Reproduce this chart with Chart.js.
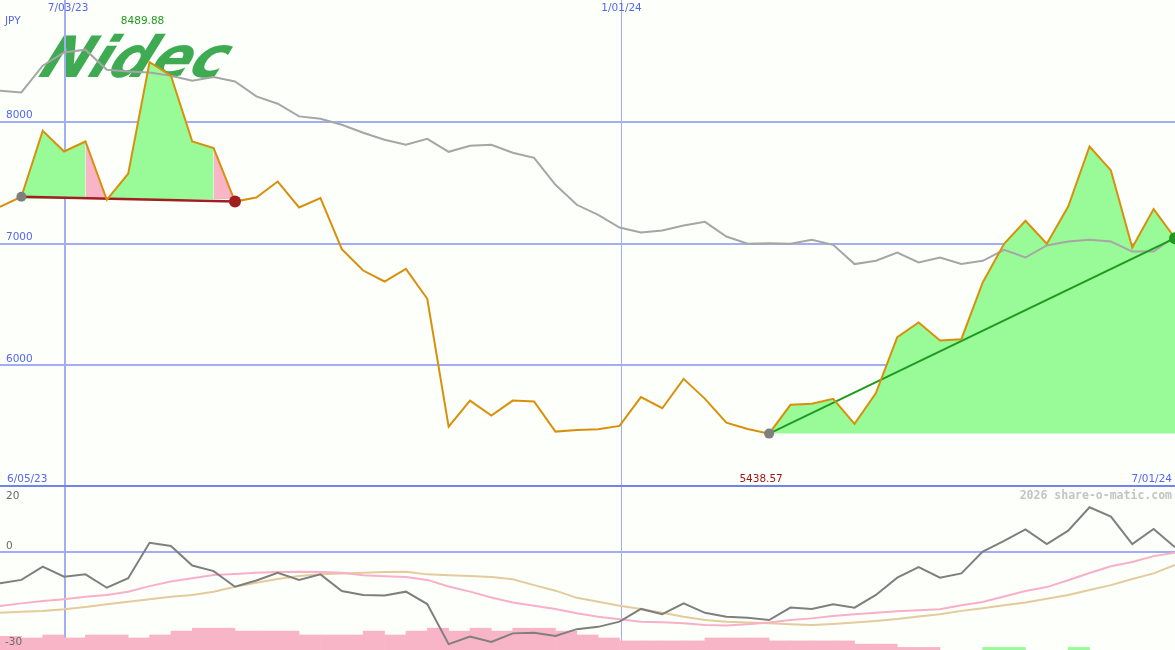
<!DOCTYPE html>
<html>
<head>
<meta charset="utf-8">
<script src="https://cdn.jsdelivr.net/npm/chart.js@4"></script>
<style>
  html, body { margin: 0; padding: 0; background: #fdfffa; }
  #wrap { position: relative; width: 1175px; height: 650px; overflow: hidden; }
  canvas { position: absolute; left: 0; }
  #priceChart { top: 0; }
  #oscChart { top: 487px; }
</style>
</head>
<body>
<div id="wrap">
  <canvas id="priceChart" width="1175" height="487"></canvas>
  <canvas id="oscChart" width="1175" height="163"></canvas>
</div>
<script>
// weekly closes, Nidec (JPY)
const weeks = ['6/12/23','6/19/23','6/26/23','7/03/23','7/10/23','7/17/23','7/24/23','7/31/23',
  '8/07/23','8/14/23','8/21/23','8/28/23','9/04/23','9/11/23','9/18/23','9/25/23','10/02/23',
  '10/09/23','10/16/23','10/23/23','10/30/23','11/06/23','11/13/23','11/20/23','11/27/23',
  '12/04/23','12/11/23','12/18/23','12/25/23','1/01/24','1/08/24','1/15/24','1/22/24','1/29/24',
  '2/05/24','2/12/24','2/19/24','2/26/24','3/04/24','3/11/24','3/18/24','3/25/24','4/01/24',
  '4/08/24','4/15/24','4/22/24','4/29/24','5/06/24','5/13/24','5/20/24','5/27/24','6/03/24',
  '6/10/24','6/17/24','6/24/24','7/01/24'];

const price = [7302, 7384, 7926, 7756, 7838, 7359, 7573, 8489.88, 8378, 7838, 7784, 7345, 7378, 7509,
  7296, 7373, 6954, 6778, 6688, 6792, 6546, 5496, 5710, 5587, 5710, 5702, 5455, 5469, 5475, 5502,
  5738, 5647, 5888, 5724, 5529, 5477, 5438.57, 5675, 5683, 5724, 5518, 5771, 6231, 6351, 6203, 6214,
  6680, 6998, 7187, 6998, 7304, 7797, 7600, 6967, 7283, 7044];

const avgLine = [8255, 8241, 8460, 8569, 8592, 8427, 8413, 8405, 8378, 8337, 8367, 8331, 8208, 8148,
  8044, 8025, 7975, 7910, 7852, 7811, 7860, 7753, 7803, 7811, 7745, 7704, 7482, 7318, 7236, 7131,
  7090, 7107, 7148, 7178, 7057, 6998, 7003, 6998, 7030, 6989, 6831, 6858, 6926, 6844, 6885, 6831,
  6858, 6948, 6885, 6984, 7016, 7030, 7016, 6934, 6934, 7057];

// oscillator panel
const momentum = [-9.5, -8.5, -4.4, -7.5, -6.8, -10.9, -8.0, 2.9, 1.9, -4.1, -5.8, -10.6, -8.7, -6.3,
  -8.5, -6.8, -11.9, -13.1, -13.3, -12.1, -15.9, -28.2, -25.9, -27.5, -24.9, -24.7, -25.7, -23.6,
  -22.9, -21.3, -17.4, -19.0, -15.7, -18.6, -19.8, -20.1, -20.8, -17.0, -17.4, -16.0, -17.0, -13.1,
  -7.8, -4.6, -7.8, -6.5, 0.2, 3.5, 7.0, 2.5, 6.6, 13.8, 10.9, 2.5, 7.1, 1.5];

const fastAvg = [-16.5, -15.7, -15.0, -14.4, -13.7, -13.1, -12.1, -10.4, -9.0, -8.0, -7.0, -6.7, -6.3,
  -6.1, -6.0, -6.1, -6.3, -7.1, -7.4, -7.6, -8.5, -10.5, -12.1, -13.9, -15.4, -16.4, -17.4, -18.7,
  -19.8, -20.6, -21.3, -21.5, -21.8, -22.3, -22.5, -22.1, -21.6, -20.8, -20.3, -19.6, -19.0, -18.6,
  -18.1, -17.8, -17.5, -16.3, -15.3, -13.6, -11.9, -10.7, -8.6, -6.4, -4.3, -3.0, -1.2, -0.2];

const slowAvg = [-18.6, -18.3, -18.0, -17.5, -16.8, -16.0, -15.2, -14.4, -13.7, -13.1, -12.1, -10.6,
  -9.4, -8.2, -7.3, -6.8, -6.5, -6.3, -6.1, -6.0, -6.8, -7.1, -7.3, -7.6, -8.3, -10.1, -11.8, -14.0,
  -15.2, -16.4, -17.4, -18.6, -19.8, -20.8, -21.3, -21.6, -21.8, -22.1, -22.3, -22.0, -21.6, -21.1,
  -20.5, -19.7, -19.0, -18.0, -17.2, -16.3, -15.4, -14.3, -13.1, -11.6, -10.1, -8.2, -6.5, -3.9];

// bars sit between weeks (one per interval)
const pinkBars = [-25.8, -26.3, -25.4, -26.3, -25.4, -25.4, -26.3, -25.4, -24.2, -23.3, -23.3, -24.2,
  -24.2, -24.2, -25.4, -25.4, -25.4, -24.2, -25.4, -24.2, -23.3, -24.2, -23.3, -24.2, -23.3, -23.3,
  -24.2, -25.4, -26.3, -27.2, -27.2, -27.2, -27.2, -26.3, -26.3, -26.3, -27.2, -27.2, -27.2, -27.2,
  -28.2, -28.2, -29.2, -29.2, null, null, null, null, null, null, null, null, null, null, null];
const greenBars = [null, null, null, null, null, null, null, null, null, null, null, null, null, null,
  null, null, null, null, null, null, null, null, null, null, null, null, null, null, null, null,
  null, null, null, null, null, null, null, null, null, null, null, null, null, null, null, null,
  -29.2, -29.2, null, null, -29.2, null, null, null, null];

const priceTicks = [6000, 7000, 8000];
const oscTicks = [20, 0, -30];
const markWeeks = ['7/03/23', '1/01/24'];

// pattern markers
const leftStart = 1, leftEnd = 11, leftBase = 7365;
const lowIdx = price.indexOf(Math.min(...price));
const highIdx = price.indexOf(Math.max(...price));
const lastIdx = price.length - 1;
const pinkSegs = [4, 10];

const GREEN_FILL = '#98fb98';
const PINK_FILL = '#f9b5c8';
const GRID = '#a3adf2';
const GRID_DARK = '#7282e6';
const BLUE_TXT = '#5566ee';

const pts = arr => arr.map((v, i) => ({ x: i, y: v }));
const part = (arr, a, b) => arr.map((v, i) => ({ x: i, y: (i >= a && i <= b) ? v : null }));
const ends = (arr, a, b) => arr.map((v, i) => ({ x: i, y: (i === a || i === b) ? v : null }));
const barPts = arr => arr.map((v, i) => ({ x: i + 0.5, y: v }));

const txtFont = '10.5px "DejaVu Sans"';

// vertical week markers: first one 2px, second 1px
function drawMarkers(ctx, a, x) {
  markWeeks.forEach((d, k) => {
    const px = Math.round(x.getPixelForValue(weeks.indexOf(d)));
    ctx.lineWidth = k === 0 ? 2 : 1;
    const lx = k === 0 ? px + 1 : px + 1.5;
    ctx.beginPath(); ctx.moveTo(lx, a.top); ctx.lineTo(lx, a.bottom); ctx.stroke();
  });
}

const priceDecor = {
  id: 'priceDecor',
  beforeDatasetsDraw(chart) {
    const { ctx, chartArea: a, scales: { x, y } } = chart;
    ctx.save();
    // logo
    ctx.fillStyle = 'rgba(52,166,74,0.95)';
    ctx.font = 'italic bold 60px "DejaVu Sans"';
    const w = ctx.measureText('Nidec').width;
    ctx.translate(37, 77);
    ctx.transform(1, 0, -0.42, 1, 0, 0);
    ctx.scale(184 / w, 0.95);
    ctx.fillText('Nidec', 0, 0);
    ctx.restore();

    ctx.save();
    ctx.strokeStyle = GRID;
    ctx.lineWidth = 2;
    priceTicks.forEach(t => {
      const py = Math.round(y.getPixelForValue(t));
      ctx.beginPath(); ctx.moveTo(a.left, py); ctx.lineTo(a.right, py); ctx.stroke();
    });
    drawMarkers(ctx, a, x);
    ctx.strokeStyle = GRID_DARK;
    ctx.lineWidth = 2;
    ctx.beginPath(); ctx.moveTo(a.left, a.bottom - 1); ctx.lineTo(a.right, a.bottom - 1); ctx.stroke();
    ctx.restore();
  },
  afterDatasetsDraw(chart) {
    const { ctx, chartArea: a, scales: { x, y } } = chart;
    ctx.save();
    ctx.font = txtFont;
    ctx.textBaseline = 'middle';
    ctx.fillStyle = BLUE_TXT;
    ctx.textAlign = 'left';
    ctx.fillText('JPY', 5, 21);
    priceTicks.forEach(t => ctx.fillText(String(t), 6, y.getPixelForValue(t) - 6));
    ctx.fillText('6/05/23', 7, 479);
    ctx.textAlign = 'center';
    ctx.fillText(markWeeks[0], x.getPixelForValue(weeks.indexOf(markWeeks[0])) + 4, 8);
    ctx.fillText(markWeeks[1], x.getPixelForValue(weeks.indexOf(markWeeks[1])) + 2, 8);
    ctx.textAlign = 'right';
    ctx.fillText(weeks[lastIdx], a.right - 3, 479);
    ctx.textAlign = 'center';
    ctx.fillStyle = '#229922';
    ctx.fillText(price[highIdx].toFixed(2), x.getPixelForValue(highIdx) - 7, 21);
    ctx.fillStyle = '#a01818';
    ctx.fillText(price[lowIdx].toFixed(2), x.getPixelForValue(lowIdx) - 8, 479);
    ctx.restore();
  }
};

new Chart(document.getElementById('priceChart'), {
  type: 'line',
  data: {
    datasets: [
      {
        data: part(price, leftStart, leftEnd),
        borderWidth: 0,
        pointRadius: 0,
        fill: { value: leftBase },
        backgroundColor: GREEN_FILL,
        segment: {
          backgroundColor: c => pinkSegs.includes(c.p0DataIndex) ? PINK_FILL : GREEN_FILL
        },
        order: 6
      },
      {
        data: part(price, lowIdx, lastIdx),
        borderWidth: 0,
        pointRadius: 0,
        fill: { value: price[lowIdx] },
        backgroundColor: GREEN_FILL,
        order: 5
      },
      {
        data: pts(avgLine),
        borderColor: '#a6a6a6',
        borderWidth: 2,
        pointRadius: 0,
        fill: false,
        order: 4
      },
      {
        data: ends(price, leftStart, leftEnd),
        borderColor: '#a11f1f',
        borderWidth: 2.5,
        pointRadius: 0,
        spanGaps: true,
        fill: false,
        order: 3
      },
      {
        data: ends(price, lowIdx, lastIdx),
        borderColor: '#1f9a1f',
        borderWidth: 2,
        pointRadius: 0,
        spanGaps: true,
        fill: false,
        order: 2
      },
      {
        data: pts(price),
        borderColor: '#d8900c',
        borderWidth: 2,
        pointRadius: 0,
        fill: false,
        order: 1
      },
      {
        data: [leftStart, leftEnd, lowIdx, lastIdx].map(i => ({ x: i, y: price[i] })),
        showLine: false,
        pointRadius: [5, 6, 5, 6],
        pointBorderWidth: 0,
        pointBackgroundColor: ['#7f7f7f', '#a11f1f', '#7f7f7f', '#1f9a1f'],
        order: 0
      }
    ]
  },
  options: {
    responsive: false,
    animation: false,
    devicePixelRatio: 1,
    layout: { padding: 0, autoPadding: false },
    plugins: { legend: { display: false }, tooltip: { enabled: false } },
    scales: {
      x: { type: 'linear', min: 0, max: weeks.length - 1, display: false },
      y: { min: 5000, max: 9000, display: false }
    }
  },
  plugins: [priceDecor]
});

const oscDecor = {
  id: 'oscDecor',
  beforeDatasetsDraw(chart) {
    const { ctx, chartArea: a, scales: { x, y } } = chart;
    ctx.save();
    ctx.strokeStyle = GRID;
    ctx.lineWidth = 2;
    const py = Math.round(y.getPixelForValue(0));
    ctx.beginPath(); ctx.moveTo(a.left, py); ctx.lineTo(a.right, py); ctx.stroke();
    drawMarkers(ctx, a, x);
    ctx.restore();
  },
  afterDatasetsDraw(chart) {
    const { ctx, chartArea: a, scales: { y } } = chart;
    ctx.save();
    ctx.font = txtFont;
    ctx.textBaseline = 'middle';
    ctx.fillStyle = '#6a6a6a';
    ctx.textAlign = 'left';
    ctx.fillText(String(oscTicks[0]), 6, y.getPixelForValue(oscTicks[0]) + 9);
    ctx.fillText(String(oscTicks[1]), 6, y.getPixelForValue(oscTicks[1]) - 6);
    ctx.fillText(String(oscTicks[2]), 5, y.getPixelForValue(oscTicks[2]) - 8);
    ctx.fillStyle = '#c4c4c4';
    ctx.font = 'bold 11.5px "DejaVu Sans Mono"';
    ctx.textAlign = 'right';
    ctx.fillText('2026 share-o-matic.com', a.right - 3, 9);
    ctx.restore();
  }
};

new Chart(document.getElementById('oscChart'), {
  data: {
    datasets: [
      {
        type: 'bar',
        data: barPts(pinkBars),
        base: -30,
        backgroundColor: PINK_FILL,
        borderWidth: 0,
        grouped: false,
        barPercentage: 1,
        categoryPercentage: 1,
        order: 5
      },
      {
        type: 'bar',
        data: barPts(greenBars),
        base: -30,
        backgroundColor: GREEN_FILL,
        borderWidth: 0,
        grouped: false,
        barPercentage: 1,
        categoryPercentage: 1,
        order: 4
      },
      {
        type: 'line',
        data: pts(slowAvg),
        borderColor: '#e3cb9c',
        borderWidth: 2,
        pointRadius: 0,
        order: 3
      },
      {
        type: 'line',
        data: pts(fastAvg),
        borderColor: '#f8b0c6',
        borderWidth: 2,
        pointRadius: 0,
        order: 2
      },
      {
        type: 'line',
        data: pts(momentum),
        borderColor: '#7f7f7f',
        borderWidth: 2,
        pointRadius: 0,
        order: 1
      }
    ]
  },
  options: {
    responsive: false,
    animation: false,
    devicePixelRatio: 1,
    layout: { padding: 0, autoPadding: false },
    plugins: { legend: { display: false }, tooltip: { enabled: false } },
    scales: {
      x: { type: 'linear', min: 0, max: weeks.length - 1, display: false, offset: false },
      y: { min: -30, max: 20, display: false }
    }
  },
  plugins: [oscDecor]
});
</script>
</body>
</html>
